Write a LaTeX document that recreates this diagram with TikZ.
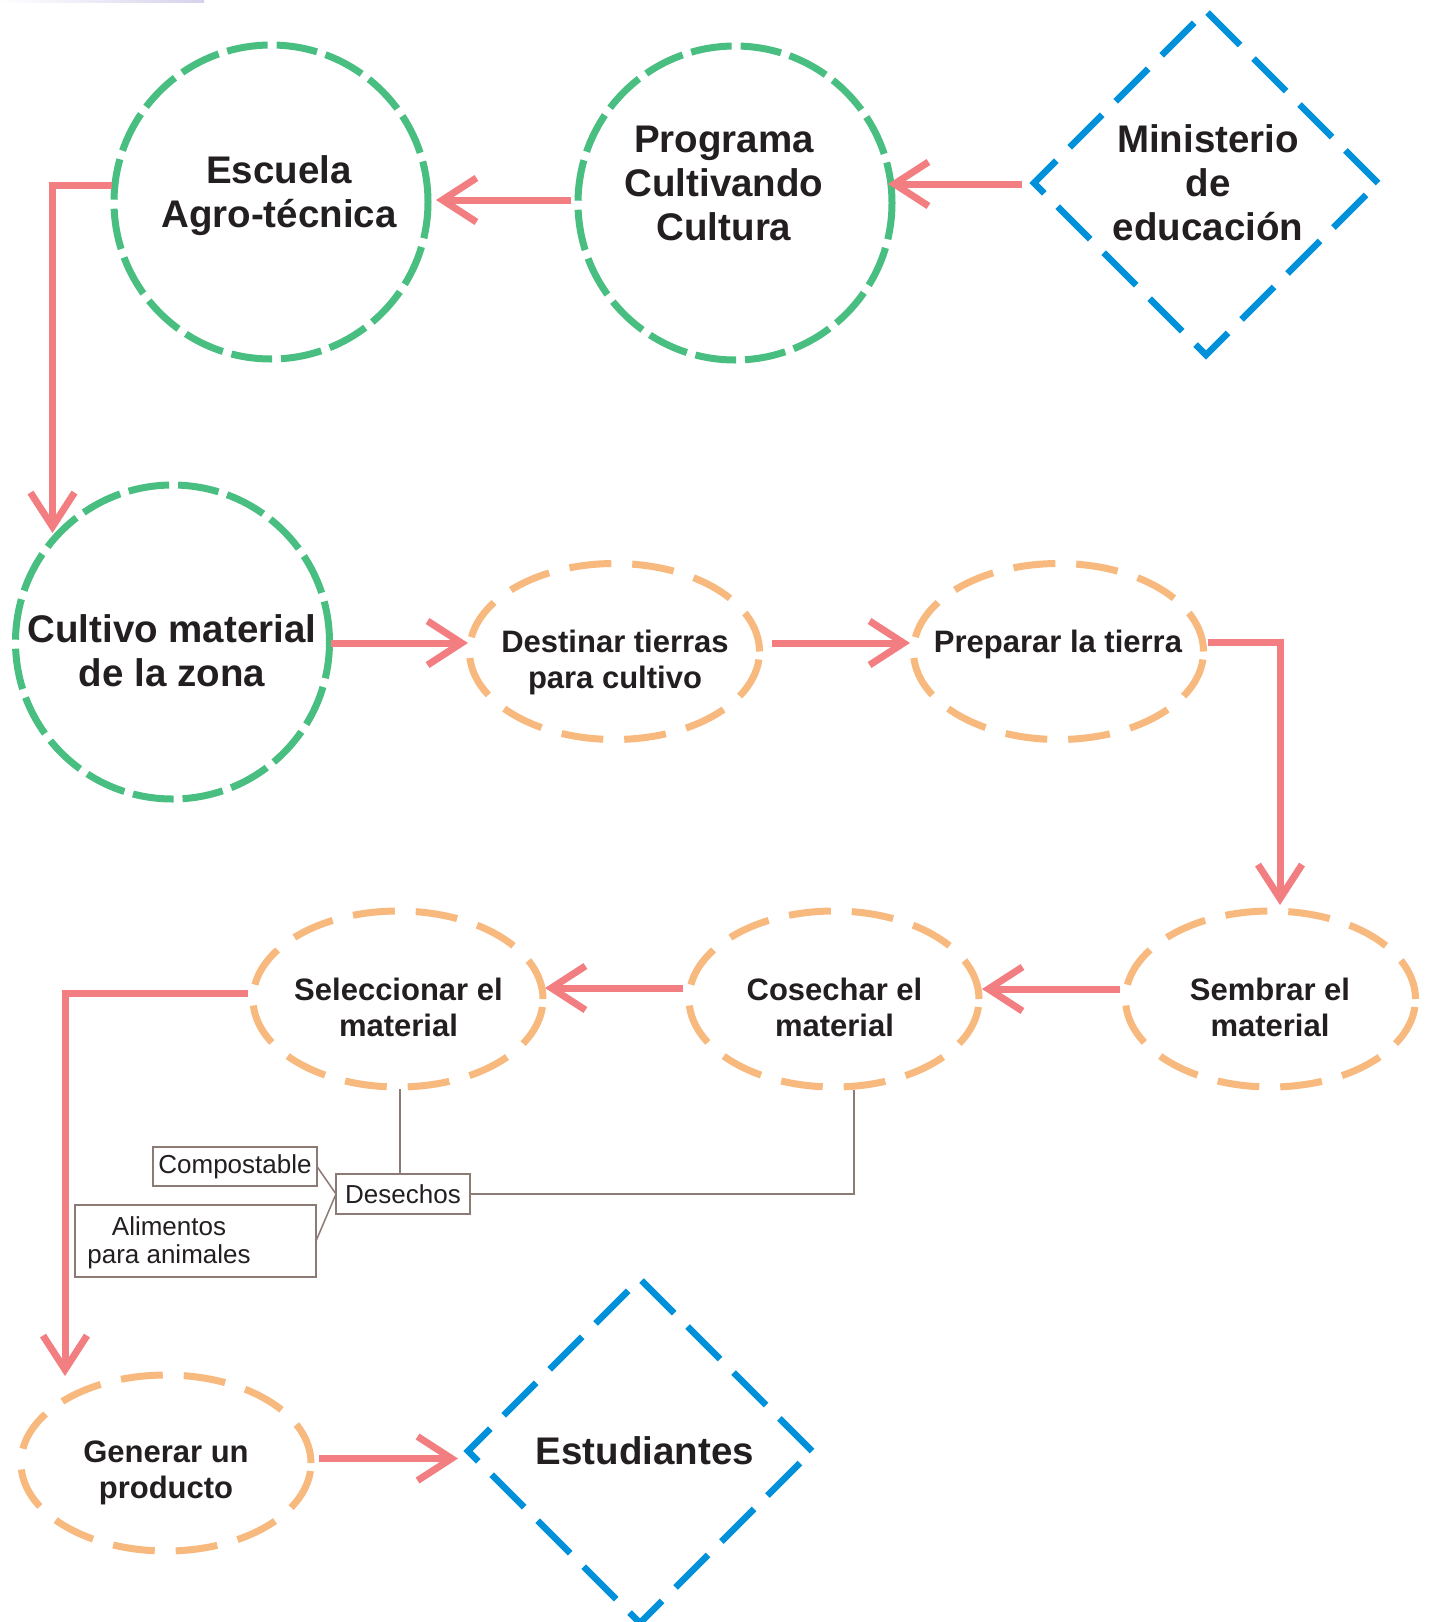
\documentclass[tikz,border=0pt]{standalone}
\usepackage{fontspec}
\setmainfont{Liberation Sans}
\usetikzlibrary{arrows.meta,calc,shapes.geometric}
\definecolor{grn}{RGB}{72,190,128}
\definecolor{org}{RGB}{248,185,126}
\definecolor{blu}{RGB}{0,145,218}
\definecolor{pnk}{RGB}{243,126,130}
\definecolor{ink}{RGB}{35,31,32}
\definecolor{brn}{RGB}{140,122,116}
\definecolor{lav}{RGB}{214,210,236}
\begin{document}
\begin{tikzpicture}[x=1pt,y=-1pt,
 gcirc/.style={circle, draw=grn, line width=7pt, dash pattern=on 41pt off 9pt, minimum size=314pt, inner sep=0pt, outer sep=0pt},
 oell/.style={ellipse, draw=org, line width=7pt, dash pattern=on 42pt off 21pt, minimum width=290pt, minimum height=176pt, inner sep=0pt, outer sep=0pt},
 bdia/.style={diamond, draw=blu, line width=6.5pt, dash pattern=on 46pt off 19pt, minimum width=344pt, minimum height=344pt, inner sep=0pt, outer sep=0pt},
 bigtxt/.style={text=ink, align=center, font=\bfseries\fontsize{38.5pt}{44pt}\selectfont, inner sep=0pt},
 midtxt/.style={text=ink, align=center, font=\bfseries\fontsize{31pt}{36pt}\selectfont, inner sep=0pt},
 wbox/.style={draw=brn, line width=1.5pt, text=ink, font=\fontsize{26pt}{28.5pt}\selectfont, inner sep=0pt, outer sep=0pt},
 smalltxt/.style={text=ink, align=center, font=\fontsize{26pt}{28.5pt}\selectfont, inner sep=0pt},
 arr/.style={draw=pnk, line width=7pt, -{Straight Barb[length=34pt,width=44pt]}},
 wline/.style={draw=brn, line width=1.5pt},
]
\fill[white] (0,0) rectangle (1429,1622);
\useasboundingbox (0,0) rectangle (1429,1622);
\shade[left color=white, right color=lav] (0,0) rectangle (204,2.5);

% shapes
\node[gcirc] (esc) at (271,202) {};
\node[gcirc] (prog) at (735,203) {};
\node[bdia] (mini) at (1206,183) {};
\node[gcirc] (cult) at (172.5,642) {};
\node[oell] (dest) at (614.5,651.5) {};
\node[oell] (prep) at (1058.5,651.5) {};
\node[oell] (semb) at (1270.5,999) {};
\node[oell] (cose) at (834,999) {};
\node[oell] (sele) at (398,999) {};
\node[oell] (gene) at (166,1463) {};
\node[bdia] (estu) at (640,1451) {};

% texts
\node[bigtxt] (escT) at (279,195.5) {Escuela\\Agro-técnica};
\node[bigtxt] (progT) at (724,183.2) {Programa\\Cultivando\\Cultura};
\node[bigtxt] (miniT) at (1208,183.2) {Ministerio\\de\\educación};
\node[bigtxt] (cultT) at (172,651) {Cultivo material\\de la zona};
\node[bigtxt] (estuT) at (645,1451) {Estudiantes};
\node[midtxt] (destT) at (615,662) {Destinar tierras\\para cultivo};
\node[midtxt] (prepT) at (1058,644) {Preparar la tierra};
\node[midtxt] (sembT) at (1270,1007) {Sembrar el\\material};
\node[midtxt] (coseT) at (834.5,1007) {Cosechar el\\material};
\node[midtxt] (seleT) at (398.5,1007) {Seleccionar el\\material};
\node[midtxt] (geneT) at (166,1472.7) {Generar un\\producto};

% small boxes
\node[wbox, minimum width=164pt, minimum height=39pt] (comp) at (235,1166.5) {Compostable};
\node[wbox, minimum width=134pt, minimum height=40pt] (dese) at (403,1194) {Desechos};
\node[wbox, minimum width=241pt, minimum height=72pt] (alim) at (195.5,1241) {};
\node[smalltxt] (alimT) at (169,1242.7) {Alimentos\\para animales};

% arrows
\draw[arr] ($(prog.west)+(-7,-3)$) -- ($(esc.east)+(8,-2)$);
\draw[arr] ($(mini.west)+(-12,1)$) -- ($(prog.east)+(-4,-19)$);
\draw[arr] ($(esc.west)+(-2,-16.5)$) -| ($(cult.center)+(-120,-109)$);
\draw[arr] ($(cult.east)+(1,1)$) -- ($(dest.west)+(-1.5,-8.5)$);
\draw[arr] ($(dest.east)+(12.5,-8.5)$) -- ($(prep.west)+(-3.5,-8.5)$);
\draw[arr] ($(prep.east)+(4.5,-9.5)$) -| ($(semb.north)+(9.5,-6)$);
\draw[arr] ($(semb.west)+(-5.5,-10)$) -- ($(cose.east)+(3,-10)$);
\draw[arr] ($(cose.west)+(-6,-11)$) -- ($(sele.east)+(2,-11)$);
\draw[arr] ($(sele.west)+(-5,-6)$) -| ($(gene.north)+(-101,1)$);
\draw[arr] ($(gene.east)+(8,-4.5)$) -- ($(estu.west)+(-10,7.5)$);

% thin connectors
\draw[wline] ($(sele.south)+(2,2)$) -- ($(dese.north)+(-3,0)$);
\draw[wline] ($(cose.south)+(20,3)$) |- (dese.east);
\draw[wline] (comp.east) -- (dese.west);
\draw[wline] (alim.east) -- (dese.west);
\end{tikzpicture}
\end{document}
